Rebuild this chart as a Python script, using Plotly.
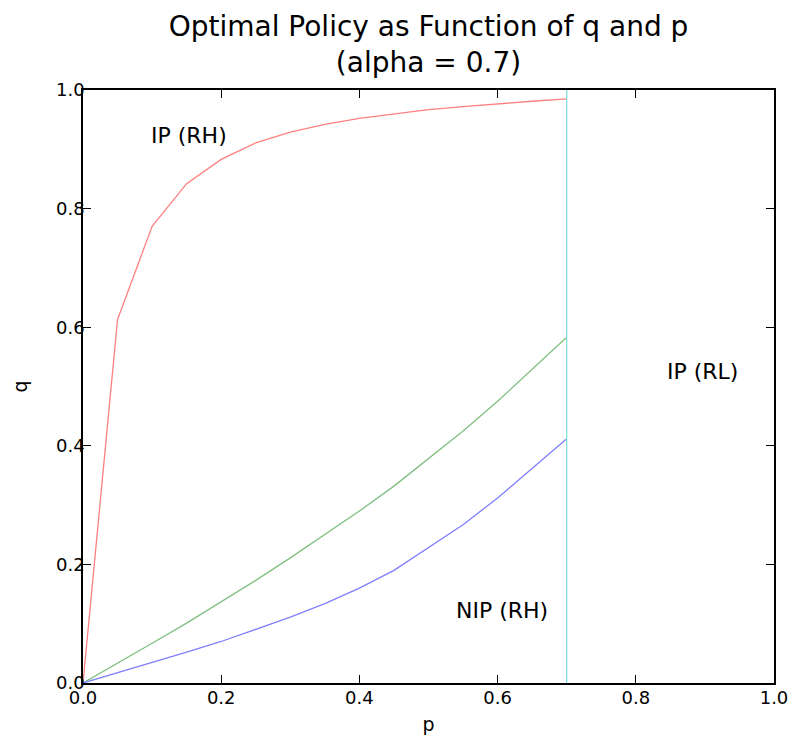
import plotly.graph_objects as go

p_red = [0.0, 0.05, 0.1, 0.15, 0.2, 0.25, 0.3, 0.35, 0.4, 0.45, 0.5, 0.55, 0.6, 0.65, 0.7]
q_red = [0.0, 0.613, 0.77, 0.842, 0.883, 0.911, 0.929, 0.942, 0.952, 0.96, 0.967, 0.972, 0.977, 0.981, 0.985]

p_nip = [0.0, 0.05, 0.1, 0.15, 0.2, 0.25, 0.3, 0.35, 0.4, 0.45, 0.5, 0.55, 0.6, 0.7]
q_green = [0.0, 0.033, 0.067, 0.101, 0.137, 0.173, 0.211, 0.25, 0.29, 0.332, 0.378, 0.425, 0.475, 0.583]
q_blue = [0.0, 0.017, 0.035, 0.052, 0.07, 0.09, 0.111, 0.134, 0.16, 0.19, 0.228, 0.267, 0.312, 0.412]

p_cut = [0.7, 0.7]
q_cut = [0.0, 1.0]

labels = ["IP (RH)", "IP (RL)", "NIP (RH)"]
label_p = [0.153, 0.897, 0.606]
label_q = [0.923, 0.525, 0.123]

FONT = "DejaVu Sans"

fig = go.Figure()
fig.add_trace(go.Scatter(x=p_red, y=q_red, mode="lines", line=dict(color="rgb(255,128,128)", width=1.3), showlegend=False))
fig.add_trace(go.Scatter(x=p_nip, y=q_green, mode="lines", line=dict(color="rgb(128,191,128)", width=1.3), showlegend=False))
fig.add_trace(go.Scatter(x=p_nip, y=q_blue, mode="lines", line=dict(color="rgb(128,128,255)", width=1.3), showlegend=False))
fig.add_trace(go.Scatter(x=p_cut, y=q_cut, mode="lines", line=dict(color="rgb(128,223,223)", width=1.3), showlegend=False))

for t, x, y in zip(labels, label_p, label_q):
    fig.add_annotation(x=x, y=y, text=t, showarrow=False, xanchor="center", yanchor="middle",
                       font=dict(family=FONT, size=22, color="black"))

axis_common = dict(
    range=[0, 1], dtick=0.2, tick0=0, tickformat=".1f", ticks="inside", ticklen=8, tickwidth=1,
    tickcolor="black", showline=True, linecolor="black", linewidth=1.5, mirror="ticks",
    showgrid=False, zeroline=False, tickfont=dict(family=FONT, size=18, color="black"),
)
fig.update_xaxes(**axis_common, ticklabelstandoff=-2,
                 title=dict(text="p", font=dict(family=FONT, size=19, color="black"), standoff=10))
fig.update_yaxes(**axis_common, ticklabelstandoff=-7,
                 title=dict(text="q", font=dict(family=FONT, size=19, color="black"), standoff=23))

fig.update_layout(
    width=792, height=736,
    margin=dict(l=75, r=21, t=82, b=54),
    plot_bgcolor="white", paper_bgcolor="white",
    title=dict(text="Optimal Policy as Function of q and p<br>(alpha = 0.7)", x=0.5, xanchor="center",
               xref="paper", yref="container", y=0.962, yanchor="top",
               font=dict(family=FONT, size=28, color="black")),
    font=dict(family=FONT),
)

fig.write_html("out.html")
